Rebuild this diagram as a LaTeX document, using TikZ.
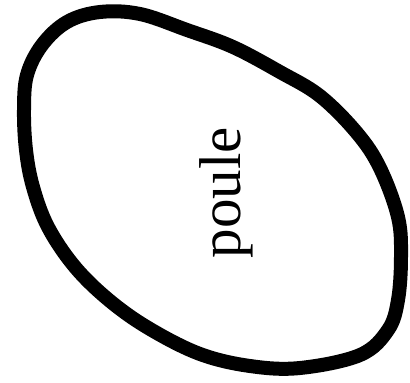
\documentclass[tikz,border=0pt]{standalone}
\usepackage{fontspec}
\setmainfont{Liberation Serif}
\usepackage{tikz}

\begin{document}
\begin{tikzpicture}[
  x=1pt, y=-1pt,
  contour/.style={draw, line width=14pt, line join=round},
  label/.style={font=\fontsize{59}{60}\selectfont, inner sep=0pt, rotate=90, anchor=base}
]
\useasboundingbox (0,0) rectangle (410,383);
\draw[contour] plot[smooth cycle, tension=0.6] coordinates {
  (100,12) (140,14) (187,30) (233,47) (280,72) (320,96) (357,133)
  (380,168) (398,217) (401,257) (398,300) (388,330) (360,355)
  (300,368) (250,366) (200,354) (150,329) (110,301) (75,267)
  (48,227) (33,187) (26,150) (24,110) (27,75) (42,45) (67,22)};
\node[label] (poule) at (240,192.5) {poule};
\end{tikzpicture}
\end{document}
